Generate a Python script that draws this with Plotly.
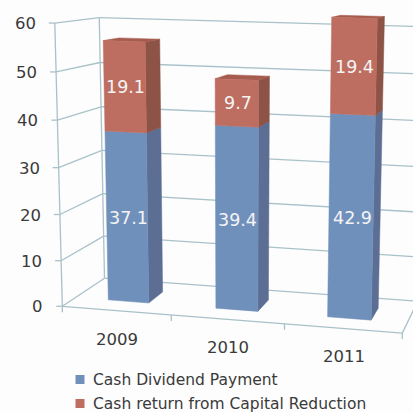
import numpy as np
import plotly.graph_objects as go

categories = ["2009", "2010", "2011"]
series_names = ["Cash Dividend Payment", "Cash return from Capital Reduction"]
dividend = [37.1, 39.4, 42.9]
capital = [19.1, 9.7, 19.4]
value_ticks = [0, 10, 20, 30, 40, 50, 60]

BLUE = ("#7090BC", "#5C6E94", "#6580AA")
RED = ("#BE6E60", "#8C5346", "#A55B4E")
GRID = "#A9C1C9"
TEXT = "#3A3A3A"
FONT = "DejaVu Sans"

# Perspective camera: fitted from reference (world X, value, depth) -> (screen x, y)
HW, ZF, ZB = 0.19, 0.30, 0.68
tops = [dividend[i] + capital[i] for i in range(3)]
cal = [
    ((0, 0, 0), (62.7, 306.5)), ((0, 60, 0), (55.7, 23.5)),
    ((0, 0, 1), (106, 278)), ((0, 60, 1), (96.7, 18.3)),
    ((3, 0, 0), (402.3, 332)), ((1, 0, 0), (170.7, 316)), ((2, 0, 0), (284, 325)),
    ((3, 0, 1), (416.6, 301.6)),
]
scr = {0: [(322, 900), (448, 908), (490, 875), (308, 122), (440, 125), (482, 118)],
       1: [(642, 925), (775, 933), (806, 900), (640, 232), (780, 233), (810, 225)],
       2: [(978, 950), (1117, 960), (1138, 925), (990, 57), (1135, 57), (1155, 52)]}
for i, pts in scr.items():
    c = i + 0.5
    w = [(c - HW, 0, ZF), (c + HW, 0, ZF), (c + HW, 0, ZB),
         (c - HW, tops[i], ZF), (c + HW, tops[i], ZF), (c + HW, tops[i], ZB)]
    cal += [(a, (b[0] / 3, b[1] / 3)) for a, b in zip(w, pts)]
A, b = [], []
for (X, Y, Z), (u, v) in cal:
    A.append([X, Y, Z, 1, 0, 0, 0, 0, -u * X, -u * Y, -u * Z]); b.append(u)
    A.append([0, 0, 0, 0, X, Y, Z, 1, -v * X, -v * Y, -v * Z]); b.append(v)
p = np.linalg.lstsq(np.array(A, float), np.array(b, float), rcond=None)[0]
P = np.append(p, 1).reshape(3, 4)


def proj(X, Y, Z):
    h = P @ np.array([X, Y, Z, 1.0])
    return h[0] / h[2], h[1] / h[2]


def poly(fig, pts, color):
    xy = [proj(*q) for q in pts]
    xy.append(xy[0])
    fig.add_trace(go.Scatter(x=[a for a, _ in xy], y=[c for _, c in xy], mode="lines",
                             fill="toself", fillcolor=color, line=dict(color=color, width=0.5),
                             hoverinfo="skip", showlegend=False))


def line(fig, a, b):
    xy = [proj(*a), proj(*b)]
    fig.add_trace(go.Scatter(x=[q[0] for q in xy], y=[q[1] for q in xy], mode="lines",
                             line=dict(color=GRID, width=1.3), hoverinfo="skip", showlegend=False))


fig = go.Figure()
top_v = value_ticks[-1]
for v in value_ticks:
    line(fig, (0, v, 0), (0, v, 1))
    line(fig, (0, v, 1), (3, v, 1))
    a = proj(0, v, 0)
    fig.add_trace(go.Scatter(x=[a[0] - 6, a[0]], y=[a[1], a[1]], mode="lines",
                             line=dict(color=GRID, width=1.3), hoverinfo="skip", showlegend=False))
line(fig, (0, 0, 0), (0, top_v, 0))
line(fig, (0, 0, 1), (0, top_v, 1))
line(fig, (0, 0, 0), (3, 0, 0))
line(fig, (3, 0, 0), (3, 0, 1))
for k in range(4):
    a = proj(k, 0, 0)
    fig.add_trace(go.Scatter(x=[a[0], a[0]], y=[a[1], a[1] + 6], mode="lines",
                             line=dict(color=GRID, width=1.3), hoverinfo="skip", showlegend=False))


def box(fig, c, y0, y1, cols, with_top):
    l, r = c - HW, c + HW
    poly(fig, [(r, y0, ZF), (r, y0, ZB), (r, y1, ZB), (r, y1, ZF)], cols[1])
    if with_top:
        poly(fig, [(l, y1, ZF), (r, y1, ZF), (r, y1, ZB), (l, y1, ZB)], cols[2])
    poly(fig, [(l, y0, ZF), (r, y0, ZF), (r, y1, ZF), (l, y1, ZF)], cols[0])


anns = []
for i in range(3):
    c = i + 0.5
    d, k = dividend[i], capital[i]
    box(fig, c, 0, d, BLUE, False)
    box(fig, c, d, d + k, RED, True)
    for val, mid in ((d, d / 2), (k, d + k / 2)):
        sx, sy = proj(c, mid, ZF)
        anns.append(dict(x=sx + 1, y=sy + 0.5, text=f"{val:.1f}", showarrow=False,
                         font=dict(family=FONT, size=17.5, color="#F4F4F4")))
    sx, sy = proj(i + 0.5, 0, 0)
    anns.append(dict(x=sx + 1, y=sy + 28.5, text=categories[i], showarrow=False,
                     font=dict(family=FONT, size=16.5, color=TEXT)))
for v in value_ticks:
    sx, sy = proj(0, v, 0)
    anns.append(dict(x=sx - 17, y=sy + 0.5, text=str(v), showarrow=False, xanchor="right",
                     font=dict(family=FONT, size=16.5, color=TEXT)))

for idx, (name, col) in enumerate(zip(series_names, (BLUE[0], RED[0]))):
    ly = 379.5 + 24 * idx
    fig.add_trace(go.Scatter(x=[80], y=[ly], mode="markers", name=name, showlegend=False,
                             hoverinfo="name", marker=dict(symbol="square", size=9, color=col)))
    anns.append(dict(x=91, y=ly, text=name, showarrow=False, xanchor="left",
                     font=dict(family=FONT, size=15.5, color=TEXT)))

fig.update_layout(
    width=413, height=412, margin=dict(l=0, r=0, t=0, b=0),
    paper_bgcolor="#FDFDFD", plot_bgcolor="#FDFDFD",
    xaxis=dict(range=[0, 413], visible=False, fixedrange=True),
    yaxis=dict(range=[412, 0], visible=False, fixedrange=True),
    annotations=anns, showlegend=False,
)
fig.write_html("out.html", config={"displayModeBar": False},
               post_script="document.body.style.margin='0';")
